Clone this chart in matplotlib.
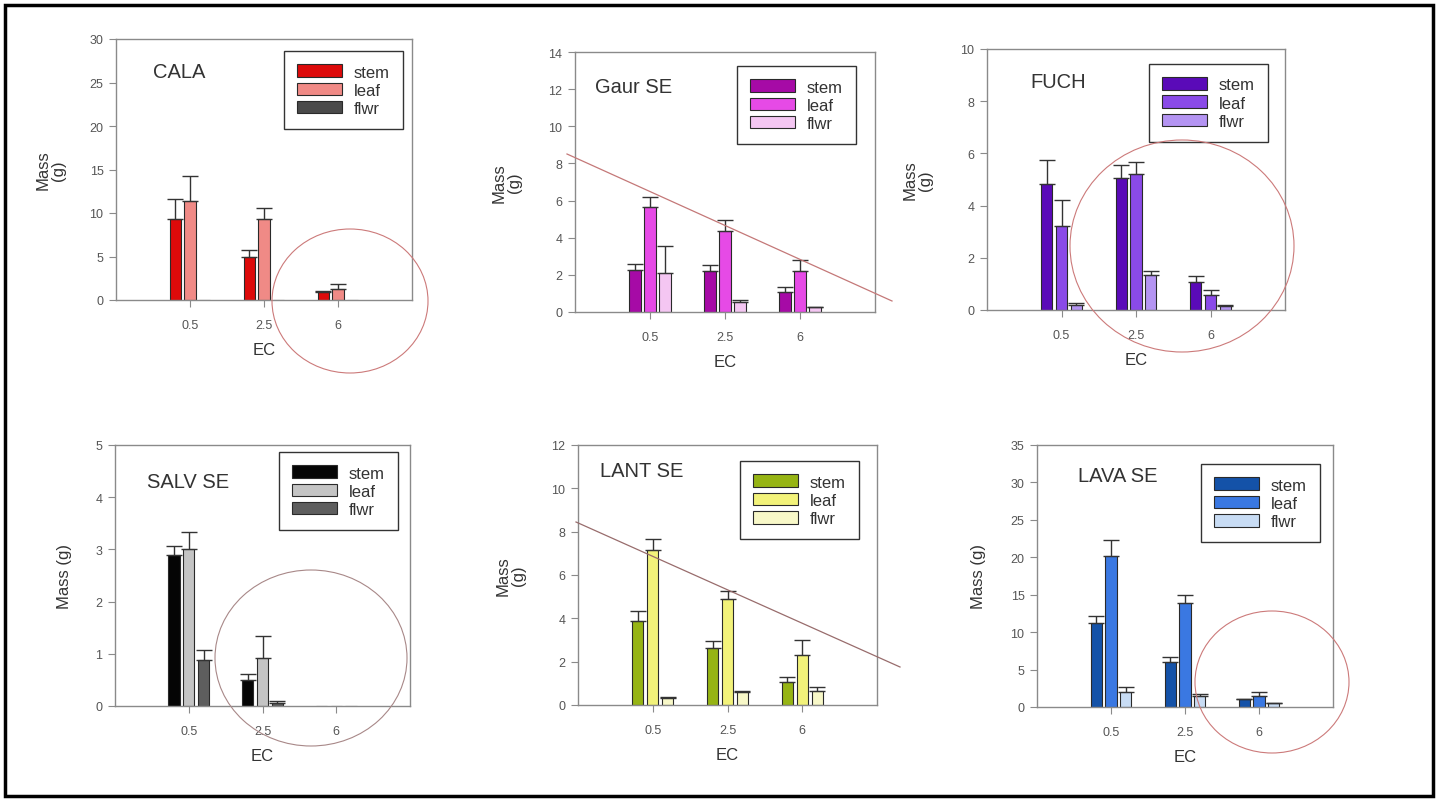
import matplotlib
matplotlib.use("Agg")
import matplotlib.pyplot as plt
from matplotlib.patches import Ellipse, Rectangle
from matplotlib.lines import Line2D
import numpy as np

plt.rcParams['font.family'] = ['Liberation Sans', 'DejaVu Sans']

W, H = 1439, 803

ec_levels = ['0.5', '2.5', '6']
parts = ['stem', 'leaf', 'flwr']

# CALA
cala_stem = [9.3, 4.9, 0.95]
cala_stem_err = [2.3, 0.85, 0.1]
cala_leaf = [11.4, 9.3, 1.3]
cala_leaf_err = [2.8, 1.3, 0.5]
cala_flwr = [0, 0, 0]
cala_flwr_err = [0, 0, 0]

# Gaur SE
gaur_stem = [2.24, 2.2, 1.1]
gaur_stem_err = [0.32, 0.35, 0.27]
gaur_leaf = [5.65, 4.35, 2.2]
gaur_leaf_err = [0.55, 0.62, 0.58]
gaur_flwr = [2.1, 0.54, 0.25]
gaur_flwr_err = [1.45, 0.12, 0.02]

# FUCH
fuch_stem = [4.83, 5.04, 1.06]
fuch_stem_err = [0.9, 0.53, 0.26]
fuch_leaf = [3.23, 5.21, 0.57]
fuch_leaf_err = [1.0, 0.47, 0.21]
fuch_flwr = [0.2, 1.34, 0.17]
fuch_flwr_err = [0.07, 0.16, 0.02]

# SALV SE
salv_stem = [2.89, 0.5, 0]
salv_stem_err = [0.18, 0.12, 0]
salv_leaf = [3.0, 0.91, 0]
salv_leaf_err = [0.33, 0.43, 0]
salv_flwr = [0.88, 0.05, 0]
salv_flwr_err = [0.19, 0.05, 0]

# LANT SE
lant_stem = [3.86, 2.61, 1.04]
lant_stem_err = [0.46, 0.34, 0.26]
lant_leaf = [7.16, 4.88, 2.33]
lant_leaf_err = [0.49, 0.36, 0.68]
lant_flwr = [0.31, 0.58, 0.66]
lant_flwr_err = [0.04, 0.08, 0.18]

# LAVA SE
lava_stem = [11.2, 6.0, 1.02]
lava_stem_err = [1.0, 0.7, 0.05]
lava_leaf = [20.2, 13.85, 1.47]
lava_leaf_err = [2.1, 1.1, 0.5]
lava_flwr = [2.05, 1.47, 0.5]
lava_flwr_err = [0.65, 0.33, 0.02]

panels = [
    dict(name='CALA', vals=[cala_stem, cala_leaf, cala_flwr],
         errs=[cala_stem_err, cala_leaf_err, cala_flwr_err],
         colors=['#dd0a0a', '#f08a86', '#4a4a4a'], ymax=30, ystep=5,
         box=(116, 40, 412, 301), title_xy=(0.125, 0.874), leg_xy=(0.97, 0.954),
         ylabel='Mass\n(g)', ylab_x=-0.22),
    dict(name='Gaur SE', vals=[gaur_stem, gaur_leaf, gaur_flwr],
         errs=[gaur_stem_err, gaur_leaf_err, gaur_flwr_err],
         colors=['#a60aa6', '#e64ae6', '#f4c6f2'], ymax=14, ystep=2,
         box=(575, 53, 875, 313), title_xy=(0.067, 0.869), leg_xy=(0.937, 0.946),
         ylabel='Mass\n(g)', ylab_x=-0.227),
    dict(name='FUCH', vals=[fuch_stem, fuch_leaf, fuch_flwr],
         errs=[fuch_stem_err, fuch_leaf_err, fuch_flwr_err],
         colors=['#5a0ab8', '#8a4ae8', '#b494f2'], ymax=10, ystep=2,
         box=(987, 50, 1285, 311), title_xy=(0.144, 0.874), leg_xy=(0.943, 0.943),
         ylabel='Mass\n(g)', ylab_x=-0.232),
    dict(name='SALV SE', vals=[salv_stem, salv_leaf, salv_flwr],
         errs=[salv_stem_err, salv_leaf_err, salv_flwr_err],
         colors=['#050505', '#c4c4c4', '#5e5e5e'], ymax=5, ystep=1,
         box=(115, 446, 410, 707), title_xy=(0.108, 0.862), leg_xy=(0.959, 0.973),
         ylabel='Mass (g)', ylab_x=-0.17),
    dict(name='LANT SE', vals=[lant_stem, lant_leaf, lant_flwr],
         errs=[lant_stem_err, lant_leaf_err, lant_flwr_err],
         colors=['#96b414', '#f2f27a', '#f8f8c8'], ymax=12, ystep=2,
         box=(578, 446, 877, 706), title_xy=(0.074, 0.9), leg_xy=(0.94, 0.938),
         ylabel='Mass\n(g)', ylab_x=-0.224),
    dict(name='LAVA SE', vals=[lava_stem, lava_leaf, lava_flwr],
         errs=[lava_stem_err, lava_leaf_err, lava_flwr_err],
         colors=['#1452a8', '#3a78e2', '#c8dcf4'], ymax=35, ystep=5,
         box=(1037, 446, 1333, 708), title_xy=(0.139, 0.882), leg_xy=(0.956, 0.927),
         ylabel='Mass (g)', ylab_x=-0.196),
]

fig = plt.figure(figsize=(W / 100, H / 100), dpi=100)

x = np.arange(1, len(ec_levels) + 1)
offsets = [-0.2, 0.0, 0.2]
bw = 0.15
spine_col = '#8a8a8a'

for p in panels:
    l, t, r, b = p['box']
    ax = fig.add_axes([l / W, 1 - b / H, (r - l) / W, (b - t) / H])
    for k in range(3):
        vals = np.array(p['vals'][k], dtype=float)
        errs = np.array(p['errs'][k], dtype=float)
        ax.bar(x + offsets[k], vals, bw, color=p['colors'][k], edgecolor='#2a2a2a',
               linewidth=0.8, label=parts[k], zorder=2)
        show = vals > 0
        ax.errorbar((x + offsets[k])[show], vals[show],
                    yerr=[np.zeros(show.sum()), errs[show]], fmt='none',
                    ecolor='#333333', elinewidth=1, capsize=5.5, capthick=1, zorder=3)
    ax.set_xlim(0, 4)
    ax.set_ylim(0, p['ymax'])
    ax.set_xticks(x)
    ax.set_xticklabels(ec_levels)
    ax.set_yticks(np.arange(0, p['ymax'] + 0.01, p['ystep']))
    ax.tick_params(axis='both', direction='out', length=5, width=0.8,
                   color=spine_col, labelcolor='#555555', labelsize=9)
    ax.tick_params(axis='x', pad=9)
    ax.tick_params(axis='y', pad=4)
    for s in ax.spines.values():
        s.set_color(spine_col)
        s.set_linewidth(1.0)
    ax.set_xlabel('EC', fontsize=12, color='#333333', va='center')
    ax.xaxis.set_label_coords(0.5, -0.19)
    ax.set_ylabel(p['ylabel'], fontsize=12, color='#333333', va='center',
                  multialignment='center', linespacing=1.0)
    ax.yaxis.set_label_coords(p['ylab_x'], 0.5)
    ax.text(p['title_xy'][0], p['title_xy'][1], p['name'], transform=ax.transAxes,
            fontsize=14.5, color='#333333', ha='left', va='center')
    leg = ax.legend(loc='upper right', bbox_to_anchor=p['leg_xy'], borderaxespad=0,
                    fontsize=12, frameon=True, fancybox=False, framealpha=1,
                    edgecolor='#333333', handlelength=2.7, handleheight=0.8,
                    handletextpad=0.7, labelspacing=0.18, borderpad=0.8)
    leg.get_frame().set_linewidth(1.0)
    for txt in leg.get_texts():
        txt.set_color('#333333')

# hand-drawn annotations (pixel positions)
circles = [((350, 302), 78, 72, '#cc7a7a'),
           ((1182, 247), 112, 106, '#cc7a7a'),
           ((311, 659), 96, 88, '#a88888'),
           ((1272, 683), 77, 71, '#cc7a7a')]
for (cx, cy), rx, ry, col in circles:
    fig.patches.append(Ellipse((cx / W, 1 - cy / H), 2 * rx / W, 2 * ry / H,
                               transform=fig.transFigure, fill=False,
                               edgecolor=col, linewidth=0.8, zorder=5))

trend_lines = [((567, 155), (892, 302), '#c47878'),
               ((576, 523), (900, 668), '#986c6c')]
for (x0, y0), (x1, y1), col in trend_lines:
    fig.lines.append(Line2D([x0 / W, x1 / W], [1 - y0 / H, 1 - y1 / H],
                            transform=fig.transFigure, color=col, linewidth=0.9,
                            zorder=5))

fig.patches.append(Rectangle((5 / W, 1 - 797 / H), 1428 / W, 791 / H,
                             transform=fig.transFigure, fill=False,
                             edgecolor='black', linewidth=2.5, zorder=6))

fig.savefig('out.png', dpi=100, facecolor='white')
